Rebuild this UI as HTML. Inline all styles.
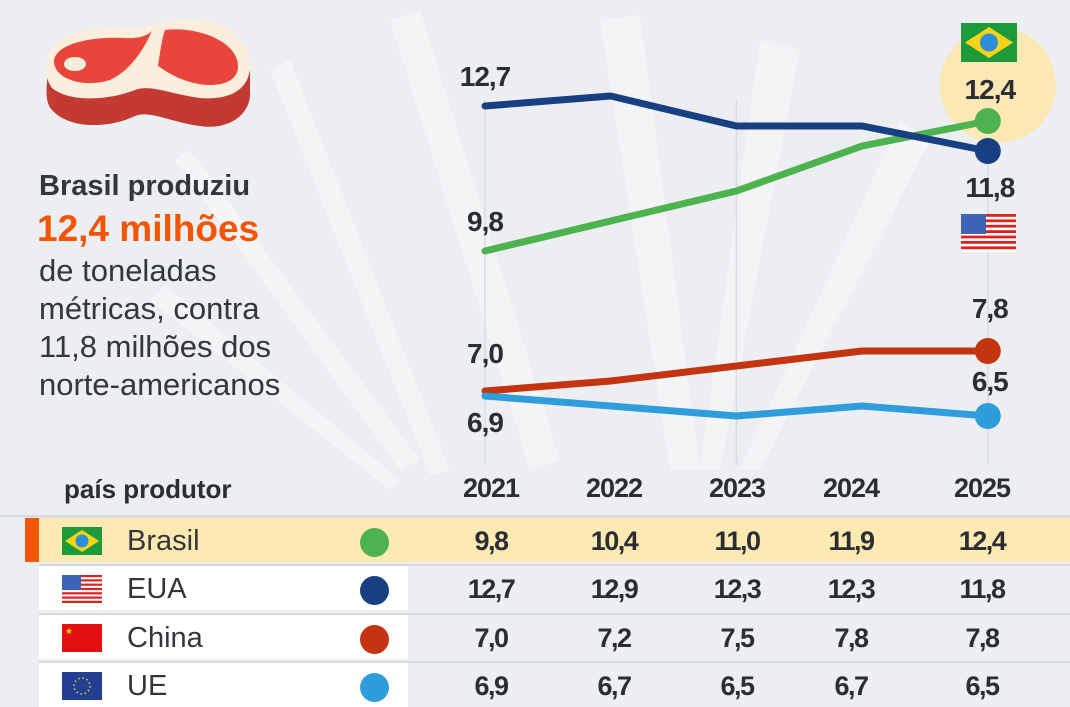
<!DOCTYPE html>
<html><head><meta charset="utf-8"><style>
*{margin:0;padding:0;box-sizing:border-box}
body{width:1070px;height:707px;overflow:hidden;background:#eceef1;font-family:"Liberation Sans",sans-serif;position:relative;color:#2a2d33}
.abs{position:absolute}
.lt{font-size:31px;color:#33363b;line-height:38px}
.b{font-weight:bold}
.row{position:absolute;left:39px;width:1031px;height:46px}
.cell{position:absolute;width:100px;text-align:center;font-weight:bold;font-size:27px;top:8px;letter-spacing:-1.5px}
.name{position:absolute;left:88px;top:7px;font-size:29px;color:#33363b}
.dot{position:absolute;left:321px;top:10px;width:29px;height:29px;border-radius:50%}
.flag{position:absolute;left:23px;top:9px;width:40px;height:28px}
</style></head><body>
<svg class="abs" style="left:0;top:0" width="1070" height="707">
<g fill="#f4f5f7" opacity="0.9">
<polygon points="390,20 420,10 560,460 530,470"/>
<polygon points="270,70 290,60 450,470 430,475"/>
<polygon points="600,20 640,15 700,470 670,470"/>
<polygon points="760,40 800,50 720,470 700,470"/>
<polygon points="900,120 930,140 760,470 740,470"/>
<polygon points="175,160 190,150 420,460 400,470"/>
<polygon points="150,300 165,285 400,480 390,490"/>
</g>
</svg>
<svg class="abs" style="left:40px;top:18px" width="216" height="118">
<path d="M8,55 C5,30 40,14 85,16 C110,17 120,8 150,8 C195,8 212,38 210,60 L210,78 C208,100 185,112 160,108 C130,104 110,92 95,98 C70,110 30,112 12,92 C5,85 6,70 8,55Z" fill="#c33a33"/>
<path d="M6,45 C5,22 40,8 85,10 C110,11 120,2 150,2 C195,2 212,30 210,50 C208,75 185,82 160,80 C130,76 110,66 95,72 C70,82 30,85 12,70 C6,62 6,52 6,45Z" fill="#fbeedd"/>
<path d="M14,44 C14,28 45,18 85,20 C100,21 108,17 112,13 C100,40 85,55 70,62 C45,70 15,62 14,44Z" fill="#e8463c"/>
<path d="M125,12 C160,8 200,25 198,50 C196,68 170,70 150,64 C130,58 122,50 118,48 C120,35 122,20 125,12Z" fill="#e8463c"/>
<ellipse cx="35" cy="46" rx="11" ry="7" fill="#fbeedd"/>
</svg>
<div class="abs lt b" style="left:39px;top:167px;font-size:29px">Brasil produziu</div>
<div class="abs b" style="left:37px;top:208px;font-size:37px;color:#f25505">12,4 milhões</div>
<div class="abs lt" style="left:39px;top:252px">de toneladas<br>métricas, contra<br>11,8 milhões dos<br>norte-americanos</div>

<svg id="chart" class="abs" style="left:0;top:0" width="1070" height="470"></svg>

<div class="abs b" style="left:64px;top:474px;font-size:26px">país produtor</div>
<div id="table"></div>

<script>
const years = ["2021","2022","2023","2024","2025"];
const countries = ["Brasil","EUA","China","UE"];
const brasil = [9.8,10.4,11.0,11.9,12.4];
const eua = [12.7,12.9,12.3,12.3,11.8];
const china = [7.0,7.2,7.5,7.8,7.8];
const ue = [6.9,6.7,6.5,6.7,6.5];
const colors = ["#4cb34f","#173f82","#c43410","#2f9ddc"];
const series = [brasil,eua,china,ue];
const NS="http://www.w3.org/2000/svg";
const x = i => 485 + i*125.7;
const y = v => 741 - 50*v;
const fmt = v => v.toFixed(1).replace('.',',');
const svg = document.getElementById('chart');
function mk(tag, attrs){const e=document.createElementNS(NS,tag);for(const k in attrs)e.setAttribute(k,attrs[k]);svg.appendChild(e);return e;}
[0,2,4].forEach(i=>{
 const l=mk('line',{x1:x(i),x2:x(i),y1:100,y2:465,stroke:'#d8dbe0','stroke-width':1.5});
 
 
});
const hl=mk('circle',{cx:x(4)+10,cy:85,r:58,fill:'#fbe8b4'});


const g1=document.createElementNS(NS,'g');g1.innerHTML='<rect x="961" y="23" width="56" height="39" fill="#1e9a3a"/><polygon points="989,27 1013,42.5 989,58 965,42.5" fill="#f7d417"/><circle cx="989" cy="42.5" r="9" fill="#2d8fd8"/>';
svg.appendChild(g1);


const g2=document.createElementNS(NS,'g');let s='<rect x="961" y="214" width="55" height="38" fill="#fff"/>';
for(let k=0;k<7;k++)s+='<rect x="961" y="'+(214+k*5.4)+'" width="55" height="2.8" fill="#d22"/>';
s+='<rect x="961" y="214" width="25" height="20" fill="#3f63b5"/>';g2.innerHTML=s;svg.appendChild(g2);


const order=[2,3,0,1];
order.forEach(si=>{
 const d=series[si];
 const p=mk('polyline',{points:d.map((v,i)=>x(i)+','+y(v)).join(' '),fill:'none',stroke:colors[si],'stroke-width':7,'stroke-linejoin':'round','stroke-linecap':'round'});
 
 
 const c=mk('circle',{cx:x(4),cy:y(d[4]),r:13,fill:colors[si]});
 
 
});
const startOff=[-30,-30,-38,+26], endOff=[-32,+36,-43,-35];
series.forEach((d,si)=>{
 [[0,startOff[si]],[4,endOff[si]]].forEach(([i,off])=>{
  const t=mk('text',{x:x(i)+(i==4?2:0),y:y(d[i])+off+10,'text-anchor':'middle','font-size':28,'font-weight':'bold',fill:'#2a2d33','font-family':'Liberation Sans, sans-serif','letter-spacing':-1});
  t.textContent=fmt(d[i]);
  
  
 });
});
const tb=document.getElementById('table');
const colX=[402,525,648,762,893];
years.forEach((yr,i)=>{
 const h=document.createElement('div');h.className='abs b';h.style.cssText='left:'+(colX[i]+39)+'px;top:473px;width:100px;text-align:center;font-size:27px;letter-spacing:-1px';
 h.textContent=yr;
 
 
 tb.appendChild(h);
});
const flags=[
'<svg class="flag" viewBox="0 0 40 28"><rect width="40" height="28" fill="#1e9a3a"/><polygon points="20,3 37,14 20,25 3,14" fill="#f7d417"/><circle cx="20" cy="14" r="6.5" fill="#2d8fd8"/></svg>',
'<svg class="flag" viewBox="0 0 40 28"><rect width="40" height="28" fill="#fff"/><g fill="#d22"><rect y="0" width="40" height="2.2"/><rect y="4.3" width="40" height="2.2"/><rect y="8.6" width="40" height="2.2"/><rect y="12.9" width="40" height="2.2"/><rect y="17.2" width="40" height="2.2"/><rect y="21.5" width="40" height="2.2"/><rect y="25.8" width="40" height="2.2"/></g><rect width="19" height="15" fill="#3f63b5"/></svg>',
'<svg class="flag" viewBox="0 0 40 28"><rect width="40" height="28" fill="#e2110f"/><text x="3" y="10" font-size="9" fill="#ffd700">★</text></svg>',
'<svg class="flag" viewBox="0 0 40 28"><rect width="40" height="28" fill="#233f94"/><circle cx="20" cy="14" r="8" fill="none" stroke="#f7d417" stroke-width="1.5" stroke-dasharray="1.5 2.7"/></svg>'];
const rowTops=[516,564,613,661];
countries.forEach((cn,ri)=>{
 const r=document.createElement('div');r.className='row';r.style.top=rowTops[ri]+'px';
 r.style.background=ri==0?'#fde9b2':'linear-gradient(90deg,#fff 0,#fff 369px,rgba(0,0,0,0) 369px)';
 r.style.borderTop='2px solid #d6d9de';
 
 
 let html=flags[ri]+'<div class="name">'+cn+'</div><div class="dot" style="background:'+colors[ri]+'"></div>';
 series[ri].forEach((v,i)=>{html+='<div class="cell" style="left:'+colX[i]+'px">'+fmt(v)+'</div>';});
 r.innerHTML=html;
 tb.appendChild(r);
});
const bar=document.createElement('div');bar.style.cssText='position:absolute;left:25px;top:518px;width:14px;height:44px;background:#f25505';


tb.appendChild(bar);
const sep=document.createElement('div');sep.style.cssText='position:absolute;left:0;top:515px;width:1070px;height:2px;background:#d6d9de';


tb.appendChild(sep);
</script>
</body></html>
